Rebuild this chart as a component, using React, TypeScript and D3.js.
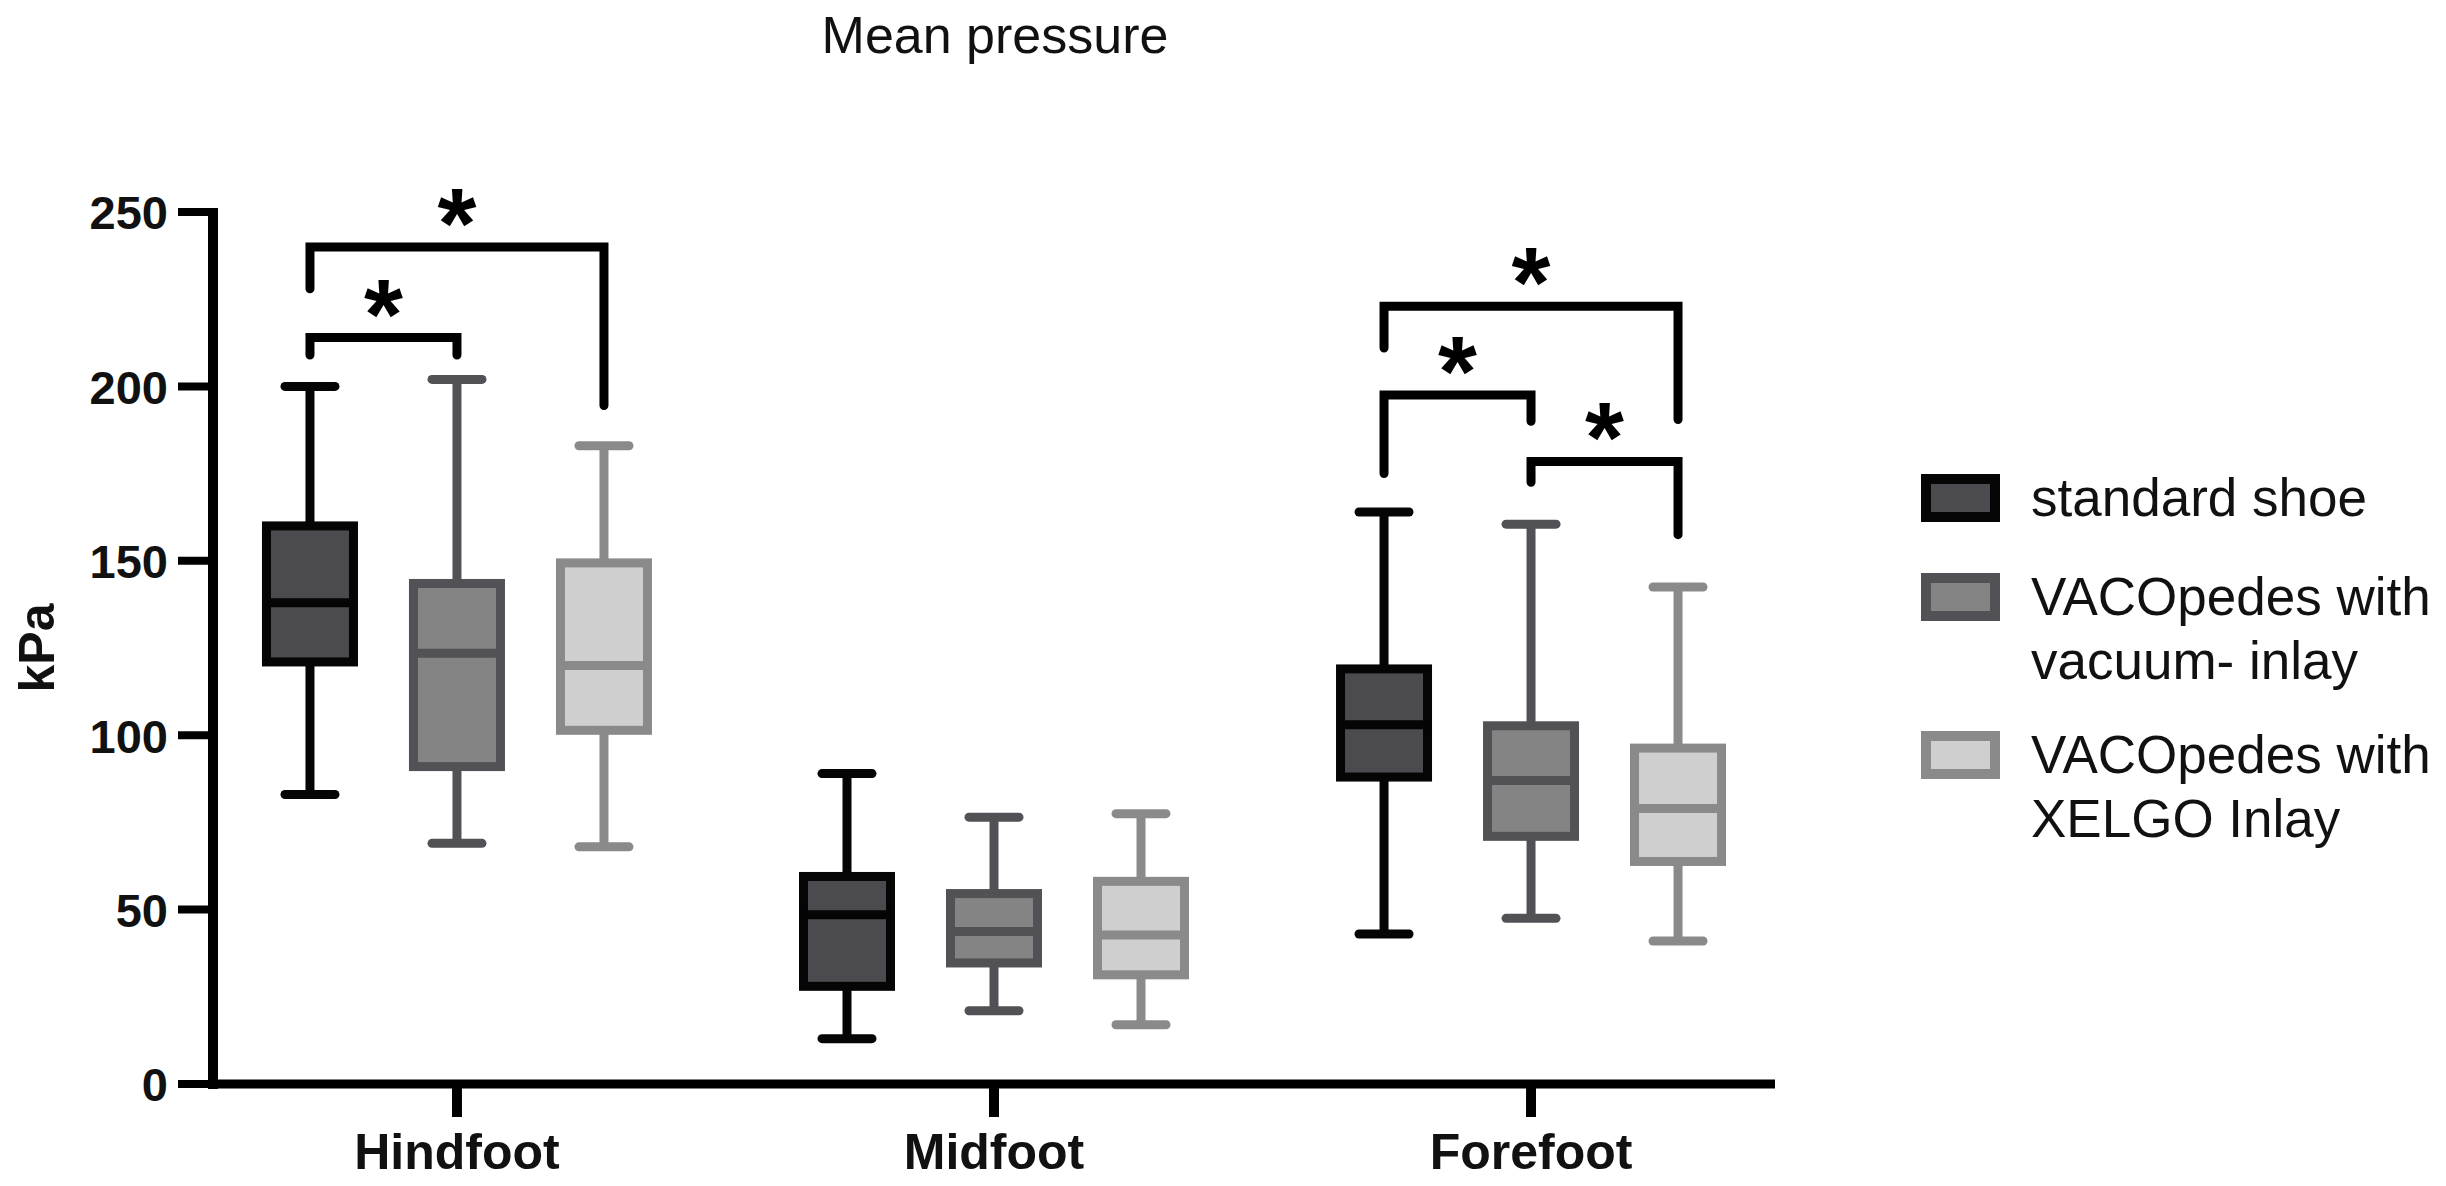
import React from "react";
import * as d3 from "d3";

// ---------- data ----------
const regions = ["Hindfoot", "Midfoot", "Forefoot"];
const seriesNames = ["standard shoe", "VACOpedes with vacuum- inlay", "VACOpedes with XELGO Inlay"];
const legendLines = [["standard shoe"], ["VACOpedes with", "vacuum- inlay"], ["VACOpedes with", "XELGO Inlay"]];
const yTicks = [0, 50, 100, 150, 200, 250];

// per series: values for [Hindfoot, Midfoot, Forefoot]
const standardMin = [83, 13, 43];
const standardQ1 = [121, 28, 88];
const standardMedian = [138, 48.5, 103];
const standardQ3 = [160, 59.5, 119];
const standardMax = [200, 89, 164];

const vacuumMin = [69, 21, 47.5];
const vacuumQ1 = [91, 34.7, 71];
const vacuumMedian = [123.5, 43.7, 87];
const vacuumQ3 = [143.5, 54.6, 102.7];
const vacuumMax = [202, 76.5, 160.5];

const xelgoMin = [68, 17, 41];
const xelgoQ1 = [101.4, 31.3, 63.8];
const xelgoMedian = [120, 42.7, 79];
const xelgoQ3 = [149.4, 58.1, 96.3];
const xelgoMax = [183, 77.5, 142.5];

// significance brackets: region, from series, to series, bar level, left leg end, right leg end
const bracketRegion = ["Hindfoot", "Hindfoot", "Forefoot", "Forefoot", "Forefoot"];
const bracketFrom = [0, 0, 0, 0, 1];
const bracketTo = [1, 2, 2, 1, 2];
const bracketBar = [214, 240, 223, 197.5, 178.5];
const bracketLeft = [209, 228, 211, 175, 172.5];
const bracketRight = [209, 194.5, 190.5, 190, 157.5];
const bracketLabel = ["*", "*", "*", "*", "*"];

// ---------- styles ----------
const seriesFill = ["#4b4a4e", "#848484", "#cfcfcf"];
const seriesStroke = ["#050505", "#525256", "#8a8a8a"];
const FONT = "'Liberation Sans', Arial, Helvetica, sans-serif";

const W = 2446;
const H = 1186;

export default function App() {
  const stats = [
    { min: standardMin, q1: standardQ1, med: standardMedian, q3: standardQ3, max: standardMax },
    { min: vacuumMin, q1: vacuumQ1, med: vacuumMedian, q3: vacuumQ3, max: vacuumMax },
    { min: xelgoMin, q1: xelgoQ1, med: xelgoMedian, q3: xelgoQ3, max: xelgoMax },
  ];

  const y = d3.scaleLinear().domain([0, 250]).range([1084, 212]);
  const x = d3.scalePoint<string>().domain(regions).range([213, 1775]).padding(0.4543);
  const off = d3.scaleBand<number>().domain([0, 1, 2]).range([-220.5, 220.5]);
  const cx = (r: string, s: number) => (x(r) as number) + (off(s) as number) + off.bandwidth() / 2;

  const boxW = 87;
  const capHalf = 25;
  const sw = 9;

  return (
    <svg
      width={W}
      height={H}
      viewBox={`0 0 ${W} ${H}`}
      style={{ position: "absolute", left: 0, top: 0, background: "#fff" }}
      fontFamily={FONT}
    >
      <rect x={0} y={0} width={W} height={H} fill="#fff" />
      {/* title */}
      <text x={995} y={53} fontSize={52} textAnchor="middle" fill="#111">
        Mean pressure
      </text>

      {/* y axis label */}
      <text
        transform="translate(54,648) rotate(-90)"
        fontSize={50}
        fontWeight="bold"
        textAnchor="middle"
        fill="#111"
      >
        kPa
      </text>

      {/* y axis */}
      <line x1={213} x2={213} y1={y(250) - 4} y2={y(0) + 5} stroke="#000" strokeWidth={10} />
      {yTicks.map((t) => (
        <g key={t}>
          <line x1={178} x2={213} y1={y(t)} y2={y(t)} stroke="#000" strokeWidth={8} />
          <text
            x={168}
            y={y(t)}
            dy="0.37em"
            textAnchor="end"
            fontSize={47}
            fontWeight="bold"
            fill="#111"
          >
            {t}
          </text>
        </g>
      ))}

      {/* x axis */}
      <line x1={208} x2={1775} y1={y(0)} y2={y(0)} stroke="#000" strokeWidth={9} />
      {regions.map((r) => (
        <g key={r}>
          <line x1={x(r)} x2={x(r)} y1={y(0)} y2={1117} stroke="#000" strokeWidth={10} />
          <text x={x(r)} y={1169} textAnchor="middle" fontSize={50} fontWeight="bold" fill="#111">
            {r}
          </text>
        </g>
      ))}

      {/* boxes */}
      {stats.map((st, s) =>
        regions.map((r, i) => {
          const c = cx(r, s);
          return (
            <g key={`${s}-${r}`}>
              <line x1={c} x2={c} y1={y(st.max[i])} y2={y(st.q3[i])} stroke={seriesStroke[s]} strokeWidth={sw} />
              <line x1={c} x2={c} y1={y(st.q1[i])} y2={y(st.min[i])} stroke={seriesStroke[s]} strokeWidth={sw} />
              <line
                x1={c - capHalf}
                x2={c + capHalf}
                y1={y(st.max[i])}
                y2={y(st.max[i])}
                stroke={seriesStroke[s]}
                strokeWidth={sw}
                strokeLinecap="round"
              />
              <line
                x1={c - capHalf}
                x2={c + capHalf}
                y1={y(st.min[i])}
                y2={y(st.min[i])}
                stroke={seriesStroke[s]}
                strokeWidth={sw}
                strokeLinecap="round"
              />
              <rect
                x={c - boxW / 2}
                y={y(st.q3[i])}
                width={boxW}
                height={y(st.q1[i]) - y(st.q3[i])}
                fill={seriesFill[s]}
                stroke={seriesStroke[s]}
                strokeWidth={sw}
              />
              <line
                x1={c - boxW / 2}
                x2={c + boxW / 2}
                y1={y(st.med[i])}
                y2={y(st.med[i])}
                stroke={seriesStroke[s]}
                strokeWidth={sw}
              />
            </g>
          );
        })
      )}

      {/* significance brackets */}
      {bracketRegion.map((r, k) => {
        const x1 = cx(r, bracketFrom[k]);
        const x2 = cx(r, bracketTo[k]);
        const yb = y(bracketBar[k]);
        const path = d3.path();
        path.moveTo(x1, y(bracketLeft[k]));
        path.lineTo(x1, yb);
        path.lineTo(x2, yb);
        path.lineTo(x2, y(bracketRight[k]));
        const fs = 100;
        return (
          <g key={`b${k}`}>
            <path
              d={path.toString()}
              fill="none"
              stroke="#000"
              strokeWidth={9}
              strokeLinecap="round"
              strokeLinejoin="miter"
            />
            <text
              x={(x1 + x2) / 2}
              y={yb - 44 + 0.55 * fs}
              textAnchor="middle"
              fontSize={fs}
              fontWeight="bold"
              fill="#000"
            >
              {bracketLabel[k]}
            </text>
          </g>
        );
      })}

      {/* legend */}
      {seriesNames.map((name, s) => {
        const yc = [498, 597, 755][s];
        return (
          <g key={name}>
            <rect
              x={1926}
              y={yc - 19}
              width={69}
              height={38}
              fill={seriesFill[s]}
              stroke={seriesStroke[s]}
              strokeWidth={10}
            />
            <text fontSize={53} fill="#111">
              {legendLines[s].map((ln, j) => (
                <tspan key={j} x={2031} y={yc + 18 + j * 64}>
                  {ln}
                </tspan>
              ))}
            </text>
          </g>
        );
      })}
    </svg>
  );
}
